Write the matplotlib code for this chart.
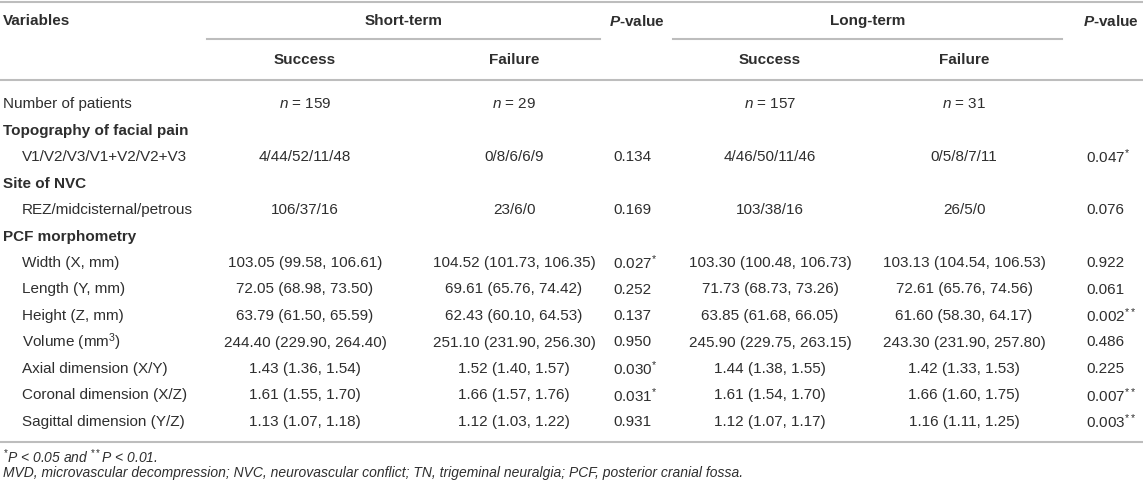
import matplotlib.pyplot as plt

plt.rcParams['font.family'] = ['Liberation Sans', 'DejaVu Sans']
plt.rcParams['mathtext.fontset'] = 'custom'
plt.rcParams['mathtext.rm'] = 'Liberation Sans'
plt.rcParams['mathtext.it'] = 'Liberation Sans:italic'
plt.rcParams['mathtext.bf'] = 'Liberation Sans:bold'
plt.rcParams['mathtext.bfit'] = 'Liberation Sans:italic:bold'

# table content
variables = ["Number of patients", "Topography of facial pain", "V1/V2/V3/V1+V2/V2+V3",
             "Site of NVC", "REZ/midcisternal/petrous", "PCF morphometry",
             "Width (X, mm)", "Length (Y, mm)", "Height (Z, mm)", "Volume (mm$^{3}$)",
             "Axial dimension (X/Y)", "Coronal dimension (X/Z)", "Sagittal dimension (Y/Z)"]
is_group = [False, True, False, True, False, True, False, False, False, False, False, False, False]
indent = [False, False, True, False, True, False, True, True, True, True, True, True, True]

short_success = ["$n$ = 159", "", "4/44/52/11/48", "", "106/37/16", "",
                 "103.05 (99.58, 106.61)", "72.05 (68.98, 73.50)", "63.79 (61.50, 65.59)",
                 "244.40 (229.90, 264.40)", "1.43 (1.36, 1.54)", "1.61 (1.55, 1.70)",
                 "1.13 (1.07, 1.18)"]
short_failure = ["$n$ = 29", "", "0/8/6/6/9", "", "23/6/0", "",
                 "104.52 (101.73, 106.35)", "69.61 (65.76, 74.42)", "62.43 (60.10, 64.53)",
                 "251.10 (231.90, 256.30)", "1.52 (1.40, 1.57)", "1.66 (1.57, 1.76)",
                 "1.12 (1.03, 1.22)"]
short_p = ["", "", "0.134", "", "0.169", "", "0.027$^{*}$", "0.252", "0.137", "0.950",
           "0.030$^{*}$", "0.031$^{*}$", "0.931"]
long_success = ["$n$ = 157", "", "4/46/50/11/46", "", "103/38/16", "",
                "103.30 (100.48, 106.73)", "71.73 (68.73, 73.26)", "63.85 (61.68, 66.05)",
                "245.90 (229.75, 263.15)", "1.44 (1.38, 1.55)", "1.61 (1.54, 1.70)",
                "1.12 (1.07, 1.17)"]
long_failure = ["$n$ = 31", "", "0/5/8/7/11", "", "26/5/0", "",
                "103.13 (104.54, 106.53)", "72.61 (65.76, 74.56)", "61.60 (58.30, 64.17)",
                "243.30 (231.90, 257.80)", "1.42 (1.33, 1.53)", "1.66 (1.60, 1.75)",
                "1.16 (1.11, 1.25)"]
long_p = ["", "", "0.047$^{*}$", "", "0.076", "", "0.922", "0.061", "0.002$^{**}$", "0.486",
          "0.225", "0.007$^{**}$", "0.003$^{**}$"]

footnotes = ["$^{*}$P < 0.05 and $^{**}$P < 0.01.",
             "MVD, microvascular decompression; NVC, neurovascular conflict; "
             "TN, trigeminal neuralgia; PCF, posterior cranial fossa."]

W, H = 1143, 489
fig = plt.figure(figsize=(W / 100, H / 100), dpi=100)
ax = fig.add_axes([0, 0, 1, 1])
ax.set_xlim(0, W)
ax.set_ylim(H, 0)
ax.axis('off')

txt = '#2e2e2e'
line_c = '#bdbdbd'
fs = 11

# column layout (pixels)
x_lab = 3
x_ind = 22
x_ss, x_sf, x_sp = 305, 514, 613
x_ls, x_lf, x_lp = 770, 964, 1086
y0, dy = 104, 26.5

# rules
ax.plot([0, W], [3, 3], color=line_c, lw=1.5)
ax.plot([207, 600], [40, 40], color=line_c, lw=1.5)
ax.plot([673, 1062], [40, 40], color=line_c, lw=1.5)
ax.plot([0, W], [81, 81], color=line_c, lw=1.5)
ax.plot([0, W], [443, 443], color=line_c, lw=1.5)

# header
hy1, hy2 = 21, 60
ax.text(x_lab, hy1, "Variables", fontsize=fs, fontweight='bold', color=txt, va='center')
ax.text((207 + 600) / 2, hy1, "Short-term", fontsize=fs, fontweight='bold', color=txt,
        ha='center', va='center')
ax.text((673 + 1062) / 2, hy1, "Long-term", fontsize=fs, fontweight='bold', color=txt,
        ha='center', va='center')
ax.text(x_sp - 4, hy1, "$\\mathbfit{P}$-value", fontsize=fs, fontweight='bold', color=txt,
        va='center')
ax.text(x_lp - 3, hy1, "$\\mathbfit{P}$-value", fontsize=fs, fontweight='bold', color=txt,
        va='center')
for xc in (x_ss, x_ls):
    ax.text(xc, hy2, "Success", fontsize=fs, fontweight='bold', color=txt, ha='center', va='center')
for xc in (x_sf, x_lf):
    ax.text(xc, hy2, "Failure", fontsize=fs, fontweight='bold', color=txt, ha='center', va='center')

# body
for i, lab in enumerate(variables):
    y = y0 + i * dy
    ax.text(x_ind if indent[i] else x_lab, y, lab, fontsize=fs, color=txt, va='center',
            fontweight='bold' if is_group[i] else 'normal')
    ax.text(x_ss, y, short_success[i], fontsize=fs, color=txt, ha='center', va='center')
    ax.text(x_sf, y, short_failure[i], fontsize=fs, color=txt, ha='center', va='center')
    ax.text(x_sp, y, short_p[i], fontsize=fs, color=txt, ha='left', va='center')
    ax.text(x_ls, y, long_success[i], fontsize=fs, color=txt, ha='center', va='center')
    ax.text(x_lf, y, long_failure[i], fontsize=fs, color=txt, ha='center', va='center')
    ax.text(x_lp, y, long_p[i], fontsize=fs, color=txt, ha='left', va='center')

ax.text(x_lab, 457, footnotes[0], fontsize=10, style='italic', color=txt, va='center')
ax.text(x_lab, 473, footnotes[1], fontsize=10, style='italic', color=txt, va='center')

fig.savefig('out.png', dpi=100)
